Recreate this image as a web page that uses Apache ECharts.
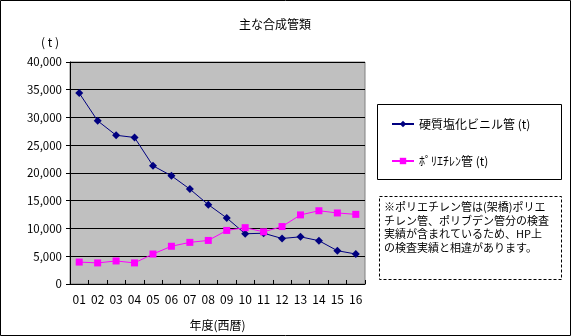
<!DOCTYPE html>
<html>
<head>
<meta charset="utf-8">
<script src="https://cdn.jsdelivr.net/npm/echarts@6/dist/echarts.min.js"></script>
<style>
  html, body { margin: 0; padding: 0; background: #fff; }
  #chart { width: 571px; height: 336px; box-sizing: border-box; }
</style>
</head>
<body>
<div id="chart"></div>
<script>
// Fiscal years (Western calendar, two-digit)
const years = ['01','02','03','04','05','06','07','08','09','10','11','12','13','14','15','16'];
// Inspection totals in tonnes
const pvcPipe = [34400, 29400, 26800, 26400, 21300, 19500, 17100, 14300, 11900, 9050, 9150, 8200, 8500, 7800, 6000, 5400];
const pePipe  = [3950, 3800, 4150, 3800, 5400, 6800, 7500, 7850, 9650, 10150, 9400, 10350, 12450, 13200, 12800, 12550];
const seriesNames = ['硬質塩化ビニル管 (t)', 'ﾎﾟﾘｴﾁﾚﾝ管 (t)'];
const noteLines = [
  '※ポリエチレン管は(架橋)ポリエ',
  'チレン管、ポリブデン管分の検査',
  '実績が含まれているため、HP上',
  'の検査実績と相違があります。'
];

const font = '"Noto Sans CJK JP", sans-serif';
const chart = echarts.init(document.getElementById('chart'));

chart.setOption({
  animation: false,
  backgroundColor: '#fff',
  textStyle: { fontFamily: font, color: '#000' },
  title: {
    text: '主な合成管類',
    left: 270, top: 13, textAlign: 'center',
    textStyle: { fontSize: 12, fontWeight: 'normal', fontFamily: font, color: '#000' }
  },
  grid: { left: 70, top: 62, right: 206, bottom: 49, show: true, backgroundColor: '#c0c0c0', borderColor: '#808080', borderWidth: 1 },
  legend: {
    orient: 'vertical',
    left: 386, top: 113,
    itemGap: 25,
    itemWidth: 22, itemHeight: 8,
    textStyle: { fontSize: 12, fontFamily: font, color: '#000' },
    data: seriesNames
  },
  xAxis: {
    type: 'category',
    data: years,
    boundaryGap: true,
    name: '年度(西暦)',
    nameLocation: 'middle',
    nameGap: 35,
    nameTextStyle: { fontSize: 12, fontFamily: font, color: '#000' },
    axisLine: { lineStyle: { color: '#000', width: 1 } },
    axisTick: { show: true, inside: true, length: 4, lineStyle: { color: '#000' } },
    axisLabel: { fontSize: 12, fontFamily: font, color: '#000', margin: 9, interval: 0 }
  },
  yAxis: {
    type: 'value',
    min: 0, max: 40000, interval: 5000,
    name: '( t )',
    nameLocation: 'end',
    nameGap: 14,
    nameTextStyle: { fontSize: 12, fontFamily: font, color: '#000', align: 'center', padding: [0, 40, 0, 0] },
    axisLine: { show: true, lineStyle: { color: '#000', width: 1 } },
    axisTick: { show: true, length: 4, lineStyle: { color: '#000' } },
    splitLine: { show: true, lineStyle: { color: '#000', width: 1 } },
    axisLabel: {
      fontSize: 11.5, fontFamily: font, color: '#000', margin: 8,
      formatter: v => v.toLocaleString('en-US')
    }
  },
  series: [
    {
      name: seriesNames[0],
      type: 'line',
      data: pvcPipe,
      symbol: 'diamond',
      symbolSize: 8,
      itemStyle: { color: '#000080' },
      lineStyle: { color: '#000080', width: 1 }
    },
    {
      name: seriesNames[1],
      type: 'line',
      data: pePipe,
      symbol: 'rect',
      symbolSize: 7,
      itemStyle: { color: '#ff00ff' },
      lineStyle: { color: '#ff00ff', width: 1 }
    }
  ],
  graphic: [
    // Outer chart frame
    { type: 'rect', shape: { x: 0.5, y: 0.5, width: 570, height: 335 }, style: { fill: 'none', stroke: '#000', lineWidth: 1 }, silent: true },
    // Legend frame
    { type: 'rect', shape: { x: 377.5, y: 104.5, width: 184, height: 75 }, style: { fill: 'none', stroke: '#000', lineWidth: 1 }, silent: true },
    // Note frame (dashed)
    { type: 'rect', shape: { x: 379.5, y: 196.5, width: 182, height: 83 }, style: { fill: 'none', stroke: '#000', lineWidth: 1, lineDash: [3, 2] }, silent: true },
    {
      type: 'text', left: 384, top: 200, silent: true,
      style: { text: noteLines.join('\n'), font: '11px ' + font, fill: '#000', lineHeight: 13.7 }
    }
  ]
});
</script>
</body>
</html>
